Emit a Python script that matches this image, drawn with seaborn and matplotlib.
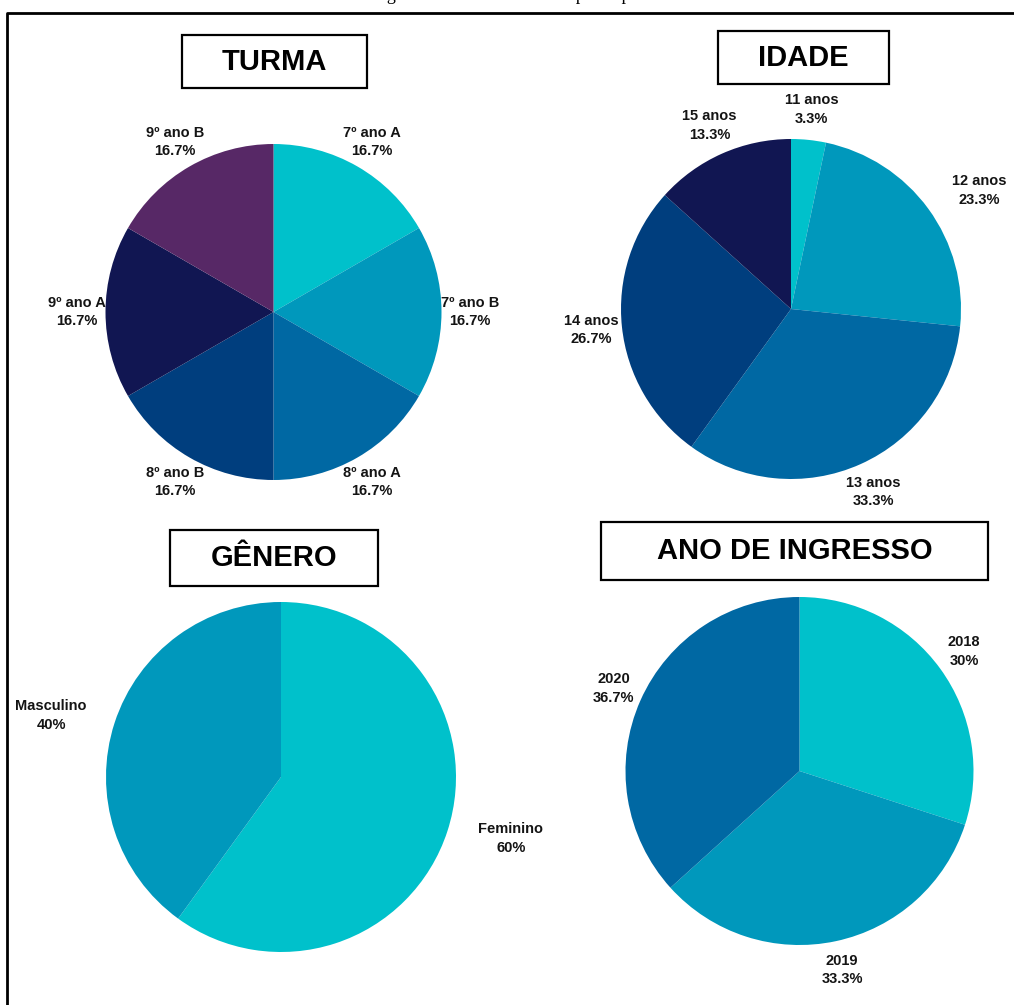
import numpy as np
import matplotlib
matplotlib.use("Agg")
import matplotlib.pyplot as plt
import seaborn as sns
from matplotlib.patches import Rectangle
from matplotlib.lines import Line2D

# ---- data ----
turma_labels = ["7º ano A", "7º ano B", "8º ano A", "8º ano B", "9º ano A", "9º ano B"]
turma_values = [16.7, 16.7, 16.7, 16.7, 16.7, 16.7]

idade_labels = ["11 anos", "12 anos", "13 anos", "14 anos", "15 anos"]
idade_values = [3.3, 23.3, 33.3, 26.7, 13.3]

genero_labels = ["Feminino", "Masculino"]
genero_values = [60, 40]

ingresso_labels = ["2018", "2019", "2020"]
ingresso_values = [30, 33.3, 36.7]

palette = sns.color_palette(["#00C1CB", "#0098BC", "#0068A3", "#003E7E", "#111652", "#572866"])

sns.set_theme(style="white")
plt.rcParams["font.family"] = ["Liberation Sans", "DejaVu Sans"]

W, H = 1014, 1005
fig = plt.figure(figsize=(W / 100, H / 100), dpi=100)
fig.patch.set_facecolor("white")

TXT = "#141414"


def fmt(v):
    s = f"{v:.1f}"
    return s[:-2] if s.endswith(".0") else s


def pie_panel(cx, cy, R, labels, values, dist, extra=None):
    """Pie centred at pixel (cx, cy) with radius R; labels placed outside."""
    L = 1.6
    ax = fig.add_axes([(cx - R * L) / W, (H - cy - R * L) / H, 2 * R * L / W, 2 * R * L / H])
    ax.set_facecolor("none")
    ax.pie(values, colors=palette[:len(values)], startangle=90, counterclock=False,
           wedgeprops=dict(linewidth=0))
    ax.set_xlim(-L, L)
    ax.set_ylim(-L, L)
    ax.set_aspect("equal")
    ax.axis("off")
    extra = extra or {}
    total = float(sum(values))
    cum = np.cumsum([0] + list(values))
    for i, (lab, v) in enumerate(zip(labels, values)):
        mid = (cum[i] + v / 2) / total
        d, shift = extra.get(lab, (dist, 0))
        theta = np.deg2rad(90 - 360 * mid + shift)
        ax.text(d * np.cos(theta), d * np.sin(theta), f"{lab}\n{fmt(v)}%",
                ha="center", va="center", fontsize=10.5, fontweight="bold",
                color=TXT, linespacing=1.4)


def title_box(x0, y0, x1, y1, text, size):
    fig.patches.append(Rectangle((x0 / W, 1 - y1 / H), (x1 - x0) / W, (y1 - y0) / H,
                                 transform=fig.transFigure, fill=False,
                                 edgecolor="black", linewidth=1.6))
    fig.text((x0 + x1) / 2 / W, 1 - (y0 + y1) / 2 / H, text, ha="center", va="center",
             fontsize=size, fontweight="bold", color="black")


pie_panel(273.5, 312, 168, turma_labels, turma_values, 1.17)
pie_panel(791, 309, 170, idade_labels, idade_values, 1.18, extra={"12 anos": (1.31, -4)})
pie_panel(281, 777, 175, genero_labels, genero_values, 1.36,
          extra={"Feminino": (1.36, 3), "Masculino": (1.36, 3)})
pie_panel(799.5, 771, 174, ingresso_labels, ingresso_values, 1.17)

title_box(182, 35, 367, 88, "TURMA", 21)
title_box(718, 31, 889, 84, "IDADE", 21)
title_box(170, 530, 378, 586, "GÊNERO", 21)
title_box(601, 522, 988, 580, "ANO DE INGRESSO", 21)

# outer frame (open to the right and bottom)
fig.lines.append(Line2D([7 / W, 7 / W, 1.0], [0.0, 1 - 13 / H, 1 - 13 / H],
                        transform=fig.transFigure, color="black", linewidth=2))

# caption above the frame
fig.text(520 / W, 1 - 0 / H, "Figura 1 – Perfil dos alunos participantes",
         ha="center", va="baseline", fontsize=13, color="black",
         family=["Liberation Serif", "DejaVu Serif"])

fig.savefig("out.png", dpi=100, facecolor="white")
